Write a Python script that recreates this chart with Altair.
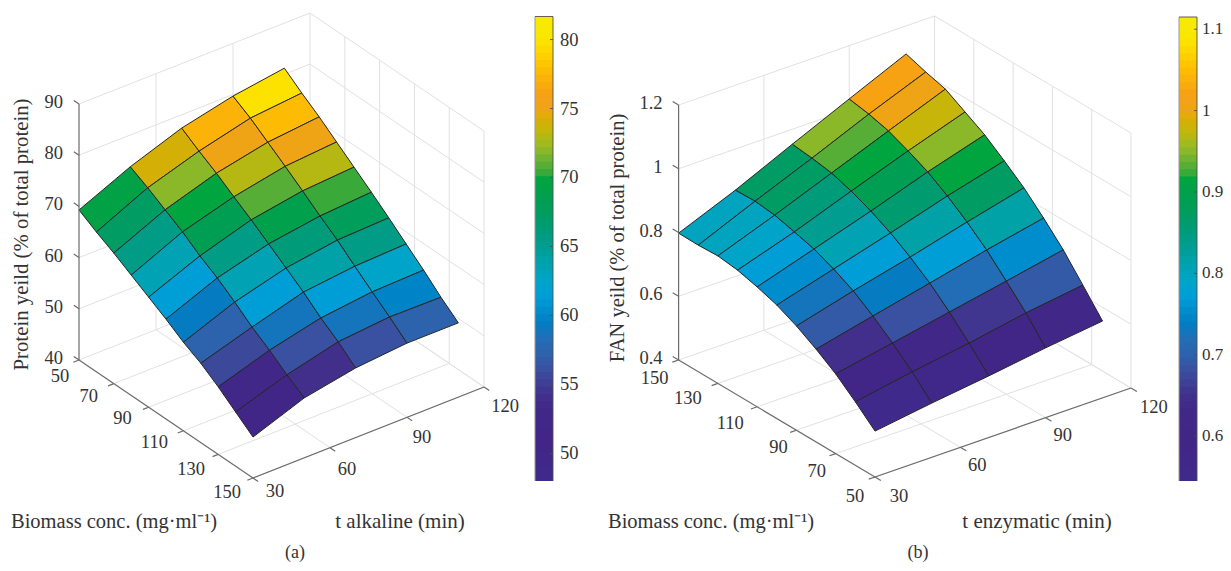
import altair as alt
import pandas as pd

# ---------- data ----------
BIOMASS_A = [50, 60, 70, 80, 90, 100, 110, 120, 130, 140, 150]
BIOMASS_B = [150, 140, 130, 120, 110, 100, 90, 80, 70, 60, 50]
TIMES = [30, 50, 70, 90, 110]

PROTEIN_T30 = [69.3, 67.3, 65.5, 63.5, 61.5, 59.5, 57.3, 55.5, 53.2, 50.6, 48.0]
PROTEIN_T50 = [73.8, 72.0, 70.0, 68.0, 65.6, 63.6, 61.2, 58.6, 56.4, 53.9, 51.7]
PROTEIN_T70 = [77.4, 75.2, 73.2, 70.9, 68.7, 66.3, 63.9, 61.5, 58.75, 56.4, 53.6]
PROTEIN_T90 = [79.7, 77.7, 75.3, 72.9, 70.4, 67.8, 65.4, 62.6, 59.9, 57.3, 54.5]
PROTEIN_T110 = [81.2, 78.65, 76.3, 73.7, 71.1, 68.5, 65.8, 63.0, 60.2, 57.2, 54.5]

FAN_T30 = [.798, .797, .800, .792, .776, .756, .727, .691, .650, .599, .544]
FAN_T50 = [.871, .873, .866, .850, .833, .807, .775, .733, .685, .631, .570]
FAN_T70 = [.953, .946, .936, .916, .890, .858, .819, .774, .720, .659, .593]
FAN_T90 = [1.033, 1.022, 1.006, .980, .951, .912, .867, .816, .755, .692, .619]
FAN_T110 = [1.112, 1.092, 1.075, 1.04, 1.005, .96, .912, .854, .791, .717, .641]

Z_TICKS_A = [40, 50, 60, 70, 80, 90]
Z_LABELS_A = ["40", "50", "60", "70", "80", "90"]
Z_TICKS_B = [0.4, 0.6, 0.8, 1.0, 1.2]
Z_LABELS_B = ["0.4", "0.6", "0.8", "1", "1.2"]
B_TICKS = [50, 70, 90, 110, 130, 150]
T_TICKS = [30, 60, 90, 120]
BAR_TICKS_A = [50, 55, 60, 65, 70, 75, 80]
BAR_LABELS_A = ["50", "55", "60", "65", "70", "75", "80"]
BAR_TICKS_B = [0.6, 0.7, 0.8, 0.9, 1.0, 1.1]
BAR_LABELS_B = ["0.6", "0.7", "0.8", "0.9", "1", "1.1"]

# ---------- styles ----------
SERIF = "Liberation Serif"
TEXT = "#333333"
GRID = "#e1e1e1"
AXIS = "#6b6b6b"
EDGE = "#262626"

# colormap anchors: (height along the colour bar, colour)
STOPS = [
    (481, "#3f2a8c"), (447, "#412688"), (413, "#412788"), (395, "#41308c"), (383, "#3f3f95"),
    (370, "#3a4f9f"), (357, "#2f60aa"), (337, "#1f70b8"), (323, "#007ec4"), (308, "#0090d0"),
    (298, "#009dd8"), (280, "#00a5c8"), (257, "#00a0a2"), (240, "#009c88"), (227, "#009a72"),
    (207, "#009d58"), (187, "#00a245"), (177, "#00a63c"), (172, "#45aa38"), (163, "#5fb035"),
    (153, "#85b72b"), (143, "#a3bb1e"), (133, "#c0b70d"), (123, "#d2b105"), (113, "#eaa80e"),
    (103, "#f4a01c"), (93, "#f7a213"), (80, "#fbb20a"), (67, "#fec000"), (57, "#ffd000"),
    (43, "#fde200"), (33, "#f9e800"), (17, "#f9e800"),
]


def hex2rgb(h):
    return [int(h[i:i + 2], 16) for i in (1, 3, 5)]


def parula_levels(n=64):
    out = []
    for k in range(n):
        y = 481 - (k + 0.5) * 464 / n
        for (y0, c0), (y1, c1) in zip(STOPS, STOPS[1:]):
            if y1 <= y <= y0:
                f = (y0 - y) / (y0 - y1)
                a, b = hex2rgb(c0), hex2rgb(c1)
                out.append("#%02x%02x%02x" % tuple(round(p + (q - p) * f) for p, q in zip(a, b)))
                break
    return out


LEVELS = parula_levels()
X = alt.X("px:Q", axis=None, scale=alt.Scale(domain=[8, 1223], range=[0, 1215]))
Y = alt.Y("py:Q", axis=None, scale=alt.Scale(domain=[8, 563], range=[0, 555]))


def make_projection(ox, oy, b0, bx, by, tx, ty, z0, zs):
    def project(b, t, z):
        return (ox + bx * (b - b0) + tx * (t - 30),
                oy + by * (b - b0) + ty * (t - 30) - zs * (z - z0))
    return project


def lines(segments, color, width):
    rows = []
    for i, (p, q) in enumerate(segments):
        rows += [{"s": i, "k": 0, "px": p[0], "py": p[1]}, {"s": i, "k": 1, "px": q[0], "py": q[1]}]
    return alt.Chart(pd.DataFrame(rows)).mark_line(color=color, strokeWidth=width, clip=False).encode(
        x=X, y=Y, detail="s:N", order="k:Q")


def texts(rows, size=18.5, align="center", angle=0):
    return alt.Chart(pd.DataFrame(rows, columns=["px", "py", "label"])).mark_text(
        font=SERIF, fontSize=size, color=TEXT, align=align, baseline="middle", angle=angle
    ).encode(x=X, y=Y, text="label:N")


def panel(project, biomass, columns, domain, z_ticks, z_labels, z_nudge, b_nudge, t_nudge,
          bar_x, bar_ticks, bar_labels, bar_top, bar_bottom, bar_gap, bar_size, titles):
    b0, b1 = biomass[0], biomass[-1]
    sign = 1 if b1 > b0 else -1
    z0, z1 = z_ticks[0], z_ticks[-1]
    grid = []
    for z in z_ticks:
        grid.append((project(b0, 30, z), project(b0, 120, z)))
        grid.append((project(b0, 120, z), project(b1, 120, z)))
    for t in T_TICKS[1:]:
        grid.append((project(b0, t, z0), project(b0, t, z1)))
        grid.append((project(b0, t, z0), project(b1, t, z0)))
    for b in B_TICKS:
        if b != b0:
            grid.append((project(b, 120, z0), project(b, 120, z1)))
            grid.append((project(b, 30, z0), project(b, 120, z0)))

    axes = [(project(b0, 30, z0), project(b0, 30, z1)),
            (project(b0, 30, z0), project(b1, 30, z0)),
            (project(b1, 30, z0), project(b1, 120, z0))]
    for z in z_ticks:
        axes.append((project(b0, 30, z), project(b0 - 3 * sign, 30, z)))
    for b in B_TICKS:
        axes.append((project(b, 30, z0), project(b, 27.8, z0)))
    for t in T_TICKS:
        axes.append((project(b1, t, z0), project(b1 + 3 * sign, t, z0)))

    rows = []
    for j in range(len(TIMES) - 1):
        for i in range(len(biomass) - 1):
            corners = [(i, j), (i + 1, j), (i + 1, j + 1), (i, j + 1), (i, j)]
            # a face takes the colour of its lowest-biomass, lowest-time corner
            ci = i if sign > 0 else i + 1
            for k, (a, c) in enumerate(corners):
                p = project(biomass[a], TIMES[c], columns[c][a])
                rows.append({"cell": f"{i}-{j}", "k": k, "px": p[0], "py": p[1], "v": columns[j][ci]})
    fill_scale = alt.Scale(type="quantize", domain=domain, range=LEVELS)
    surface = alt.Chart(pd.DataFrame(rows)).mark_line(stroke=EDGE, strokeWidth=1, clip=False).encode(
        x=X, y=Y, detail="cell:N", order="k:Q",
        fill=alt.Fill("v:Q", scale=fill_scale, legend=None))

    # colour bar
    span = domain[1] - domain[0]

    def bar_y(v):
        return bar_bottom - (v - domain[0]) / span * (bar_bottom - bar_top)

    bar_rows = []
    for k in range(64):
        lo = domain[0] + span * k / 64
        hi = domain[0] + span * (k + 1) / 64
        overlap = 0.8 if k < 63 else 0
        bar_rows.append({"px": bar_x, "px2": bar_x + 18, "py": bar_y(lo), "py2": bar_y(hi) - overlap,
                         "v": (lo + hi) / 2})
    bar = alt.Chart(pd.DataFrame(bar_rows)).mark_rect().encode(
        x=X, x2="px2:Q", y=Y, y2="py2:Q",
        fill=alt.Fill("v:Q", scale=fill_scale, legend=None))
    frame = [((bar_x, bar_top), (bar_x + 18, bar_top)), ((bar_x + 18, bar_top), (bar_x + 18, bar_bottom))]
    frame += [((bar_x + 15, bar_y(v)), (bar_x + 18, bar_y(v))) for v in bar_ticks]
    frame_left = [((bar_x, bar_top), (bar_x, bar_bottom))]

    z_rows = [(project(b0, 30, z)[0] + z_nudge[0], project(b0, 30, z)[1] + z_nudge[1], s)
              for z, s in zip(z_ticks, z_labels)]
    b_rows = [(project(b, 30, z0)[0] + b_nudge[b][0], project(b, 30, z0)[1] + b_nudge[b][1], str(b))
              for b in B_TICKS]
    t_rows = [(project(b1, t, z0)[0] + t_nudge[t][0], project(b1, t, z0)[1] + t_nudge[t][1], str(t))
              for t in T_TICKS]
    bar_rows_txt = [(bar_x + bar_gap, bar_y(v), s) for v, s in zip(bar_ticks, bar_labels)]

    return [
        lines(grid, GRID, 1),
        surface,
        lines(axes, AXIS, 1.2),
        bar,
        lines(frame_left, "#9a9a9a", 1),
        lines(frame, "#4f4f4f", 0.9),
        texts(z_rows, align="right"),
        texts(b_rows),
        texts(t_rows),
        texts(bar_rows_txt, size=bar_size, align="left"),
        texts([titles["ylabel"]], size=titles["ysize"], angle=270),
        texts([titles["blabel"]], size=20.5, align="left"),
        texts([titles["tlabel"]], size=21),
        texts([titles["tag"]], size=18),
    ]


proj_a = make_projection(79, 360, 50, 1.74, 1.18, 2.567, -1.0111, 40, 5.12)
proj_b = make_projection(678.6, 360, 150, -1.964, -1.17, 2.844, -0.989, 0.4, 318.75)

layers_a = panel(
    proj_a, BIOMASS_A, [PROTEIN_T30, PROTEIN_T50, PROTEIN_T70, PROTEIN_T90, PROTEIN_T110],
    [48.0, 81.67], Z_TICKS_A, Z_LABELS_A, (-16, -2),
    {50: (-19, 16), 70: (-25, 12), 90: (-26, 11), 110: (-29, 11), 130: (-27, 15), 150: (-26, 14)},
    {30: (22, 13), 60: (17, 21), 90: (15, 20), 120: (21, 19)},
    535, BAR_TICKS_A, BAR_LABELS_A, 16.5, 481, 25, 18.5,
    {"ylabel": (22, 234.5, "Protein yeild (% of total protein)"), "ysize": 20.8,
     "blabel": (11, 522, "Biomass conc. (mg·ml⁻¹)"),
     "tlabel": (400, 522, "t alkaline (min)"), "tag": (295, 553, "(a)")})

layers_b = panel(
    proj_b, BIOMASS_B, [FAN_T30, FAN_T50, FAN_T70, FAN_T90, FAN_T110],
    [0.545, 1.115], Z_TICKS_B, Z_LABELS_B, (-16, -2),
    {150: (-24, 18), 130: (-30, 15), 110: (-27, 16), 90: (-18, 17), 70: (-19, 17), 50: (-20, 19)},
    {30: (24, 19), 60: (17, 18), 90: (17, 17), 120: (23, 19)},
    1179, BAR_TICKS_B, BAR_LABELS_B, 17, 481, 23, 17,
    {"ylabel": (618, 238, "FAN yeild (% of total protein)"), "ysize": 20.5,
     "blabel": (608, 522, "Biomass conc. (mg·ml⁻¹)"),
     "tlabel": (1037, 522, "t enzymatic (min)"), "tag": (918, 553, "(b)")})

chart = alt.layer(*layers_a, *layers_b).resolve_scale(fill="independent").properties(
    width=1215, height=555, padding=0, autosize=alt.AutoSizeParams(type="none")
).configure_view(stroke=None)

chart.save("out.html", embed_options={"renderer": "svg", "actions": False})
